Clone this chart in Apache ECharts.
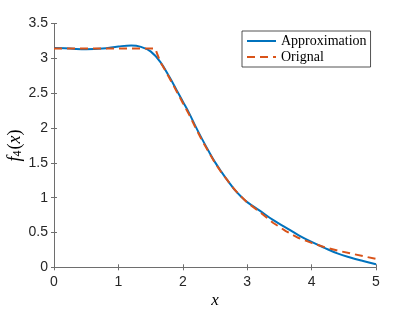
<!DOCTYPE html>
<html>
<head>
<meta charset="utf-8">
<script src="https://cdn.jsdelivr.net/npm/echarts@6/dist/echarts.min.js"></script>
<style>html,body{margin:0;padding:0;background:#fff;}#c{width:415px;height:312px;}</style>
</head>
<body>
<div id="c"></div>
<script>
const xTicks = [0, 1, 2, 3, 4, 5];
const yTicks = [0, 0.5, 1, 1.5, 2, 2.5, 3, 3.5];

const approxX = [0, 0.25, 0.5, 0.75, 1.0, 1.2, 1.35, 1.5, 1.65, 1.8, 1.9, 2.0, 2.1, 2.2, 2.3, 2.4, 2.5, 2.6, 2.7, 2.8, 2.9, 3.0, 3.2, 3.4, 3.6, 3.8, 4.0, 4.2, 4.4, 4.6, 4.8, 5.0];
const approxY = [3.15, 3.14, 3.13, 3.14, 3.17, 3.185, 3.165, 3.10, 2.95, 2.72, 2.55, 2.38, 2.21, 2.02, 1.84, 1.67, 1.51, 1.37, 1.24, 1.12, 1.02, 0.935, 0.81, 0.68, 0.57, 0.46, 0.365, 0.28, 0.20, 0.14, 0.09, 0.045];

const origX = [0, 0.5, 1.0, 1.5, 1.5708, 1.65, 1.75, 1.85, 2.0, 2.1, 2.2, 2.3, 2.4, 2.5, 2.6, 2.7, 2.8, 2.9, 3.0, 3.2, 3.4, 3.6, 3.8, 4.0, 4.2, 4.4, 4.6, 4.8, 5.0];
const origY = [3.1416, 3.1416, 3.1416, 3.1416, 3.1416, 2.95, 2.79, 2.62, 2.36, 2.19, 2.00, 1.82, 1.66, 1.50, 1.36, 1.24, 1.12, 1.02, 0.93, 0.79, 0.64, 0.52, 0.42, 0.35, 0.29, 0.24, 0.20, 0.16, 0.12];

const zip = (xs, ys) => xs.map((x, i) => [x, ys[i]]);

const axisColor = '#6e6e6e';
const labelColor = '#262626';
const chart = echarts.init(document.getElementById('c'), null, {renderer: 'canvas'});
chart.setOption({
  animation: false,
  grid: {left: 54, right: 39, top: 23.5, bottom: 44.7, containLabel: false, outerBoundsMode: 'none'},
  legend: {
    orient: 'vertical',
    left: 242, top: 31,
    padding: [3, 4, 3, 4],
    itemGap: 2,
    itemWidth: 29,
    itemHeight: 14,
    itemTextGap: 4,
    backgroundColor: '#fff',
    borderColor: '#262626',
    borderWidth: 0.8,
    borderRadius: 0,
    itemStyle: {opacity: 0},
    textStyle: {fontFamily: 'Liberation Serif', fontSize: 14, color: '#000'},
    data: ['Approximation', 'Orignal']
  },
  xAxis: [{
    type: 'value', min: 0, max: 5, interval: 1,
    name: 'x', nameLocation: 'middle', nameGap: 25, nameMoveOverlap: false,
    nameTextStyle: {fontFamily: 'Liberation Serif', fontStyle: 'italic', fontSize: 17, color: '#000'},
    axisLine: {show: true, lineStyle: {color: axisColor, width: 1}},
    axisTick: {show: true, inside: true, length: 3, lineStyle: {color: axisColor}},
    axisLabel: {color: labelColor, fontFamily: 'Liberation Sans', fontSize: 14, margin: 8,
      formatter: v => String(xTicks[xTicks.indexOf(v)])},
    splitLine: {show: false}
  }, {
    type: 'value', min: 0, max: 5, interval: 1, position: 'top',
    axisLine: {show: true, lineStyle: {color: axisColor, width: 1}},
    axisTick: {show: true, inside: true, length: 3, lineStyle: {color: axisColor}},
    axisLabel: {show: false}, splitLine: {show: false}
  }],
  yAxis: [{
    type: 'value', min: 0, max: 3.5, interval: 0.5,
    name: '{f|f}{s|4}{n|(}{f|x}{n|)}', nameLocation: 'middle', nameGap: 30, nameMoveOverlap: false,
    nameTextStyle: {
      color: '#000',
      rich: {
        f: {fontFamily: 'Liberation Serif', fontStyle: 'italic', fontSize: 18, color: '#000'},
        s: {fontFamily: 'Liberation Serif', fontSize: 12, color: '#000', verticalAlign: 'bottom', padding: [0,1,0,0]},
        n: {fontFamily: 'Liberation Serif', fontSize: 18, color: '#000'}
      }
    },
    axisLine: {show: true, lineStyle: {color: axisColor, width: 1}},
    axisTick: {show: true, inside: true, length: 3, lineStyle: {color: axisColor}},
    axisLabel: {color: labelColor, fontFamily: 'Liberation Sans', fontSize: 14, margin: 6,
      formatter: v => String(yTicks[yTicks.indexOf(v)])},
    splitLine: {show: false}
  }, {
    type: 'value', min: 0, max: 3.5, interval: 0.5, position: 'right',
    axisLine: {show: true, lineStyle: {color: axisColor, width: 1}},
    axisTick: {show: true, inside: true, length: 3, lineStyle: {color: axisColor}},
    axisLabel: {show: false}, splitLine: {show: false}
  }],
  series: [{
    name: 'Approximation', type: 'line', xAxisIndex: 0, yAxisIndex: 0,
    data: zip(approxX, approxY), smooth: 0.4, showSymbol: false, symbol: 'none',
    lineStyle: {color: '#0072BD', width: 2}, itemStyle: {color: '#0072BD'}
  }, {
    name: 'Orignal', type: 'line', xAxisIndex: 0, yAxisIndex: 0,
    data: zip(origX, origY), smooth: false, showSymbol: false, symbol: 'none',
    lineStyle: {color: '#D95319', width: 2, type: [8, 5]}, itemStyle: {color: '#D95319'}
  }]
});
</script>
</body>
</html>
